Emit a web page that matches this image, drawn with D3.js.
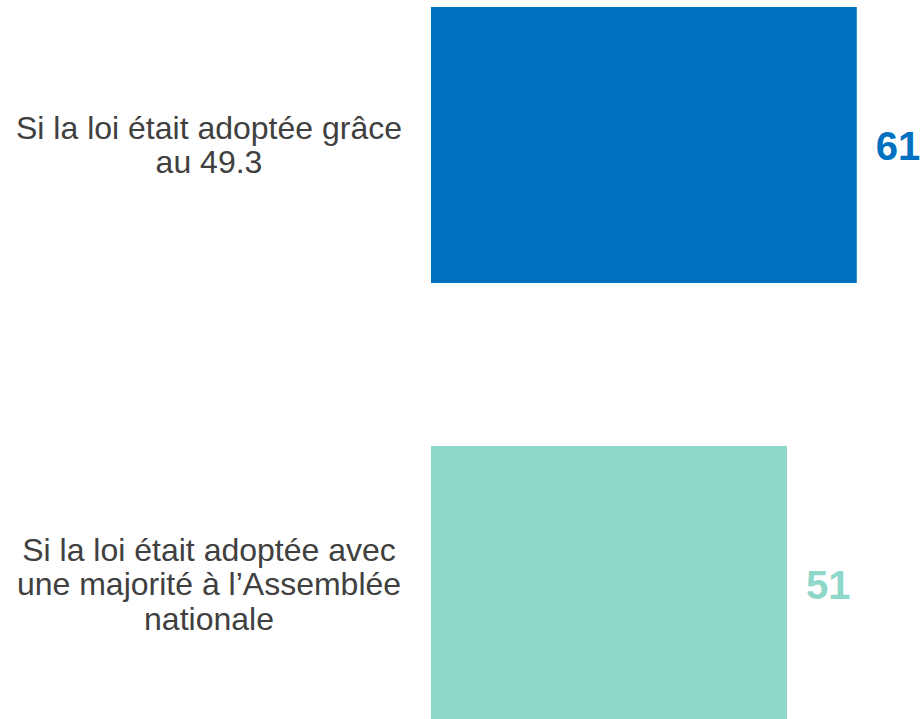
<!DOCTYPE html>
<html>
<head>
<meta charset="utf-8">
<script src="https://cdn.jsdelivr.net/npm/d3@7"></script>
<style>
  body { margin: 0; background: #fff; }
  svg { display: block; font-family: "Liberation Sans", Arial, sans-serif; }
</style>
</head>
<body>
<svg id="chart" width="922" height="719"></svg>
<script>
const categories = [
  ["Si la loi était adoptée grâce", "au 49.3"],
  ["Si la loi était adoptée avec", "une majorité à l’Assemblée", "nationale"]
];
const values = [61, 51];
const colors = ["#0070C0", "#8FD7C9"];

const svg = d3.select("#chart");

const x = d3.scaleLinear()
  .domain([0, 100])
  .range([431, 431 + 698]);

// step 439, bar height 276
const y = d3.scaleBand()
  .domain(d3.range(values.length))
  .range([7, 722])
  .paddingInner(0.3713)
  .paddingOuter(0);

// bars
svg.selectAll(".bar")
  .data(values)
  .enter().append("rect")
  .attr("class", "bar")
  .attr("x", x(0))
  .attr("y", (d, i) => y(i))
  .attr("width", d => x(d) - x(0))
  .attr("height", y.bandwidth())
  .attr("fill", (d, i) => colors[i]);

// value labels
svg.selectAll(".value")
  .data(values)
  .enter().append("text")
  .attr("class", "value")
  .attr("x", d => x(d) + 19)
  .attr("y", (d, i) => y(i) + y.bandwidth() / 2 + 1)
  .attr("dominant-baseline", "central")
  .attr("font-size", 40)
  .attr("font-weight", "bold")
  .attr("fill", (d, i) => colors[i])
  .text(d => d);

// category labels
const lineH = 34.5;
svg.selectAll(".cat")
  .data(categories)
  .enter().append("text")
  .attr("class", "cat")
  .attr("text-anchor", "middle")
  .attr("font-size", 32)
  .attr("fill", "#404040")
  .each(function (lines, i) {
    const cy = y(i) + y.bandwidth() / 2;
    const start = cy - (lines.length - 1) * lineH / 2;
    d3.select(this).selectAll("tspan")
      .data(lines)
      .enter().append("tspan")
      .attr("x", 209)
      .attr("y", (l, j) => start + j * lineH)
      .attr("dominant-baseline", "central")
      .text(l => l);
  });
</script>
</body>
</html>
